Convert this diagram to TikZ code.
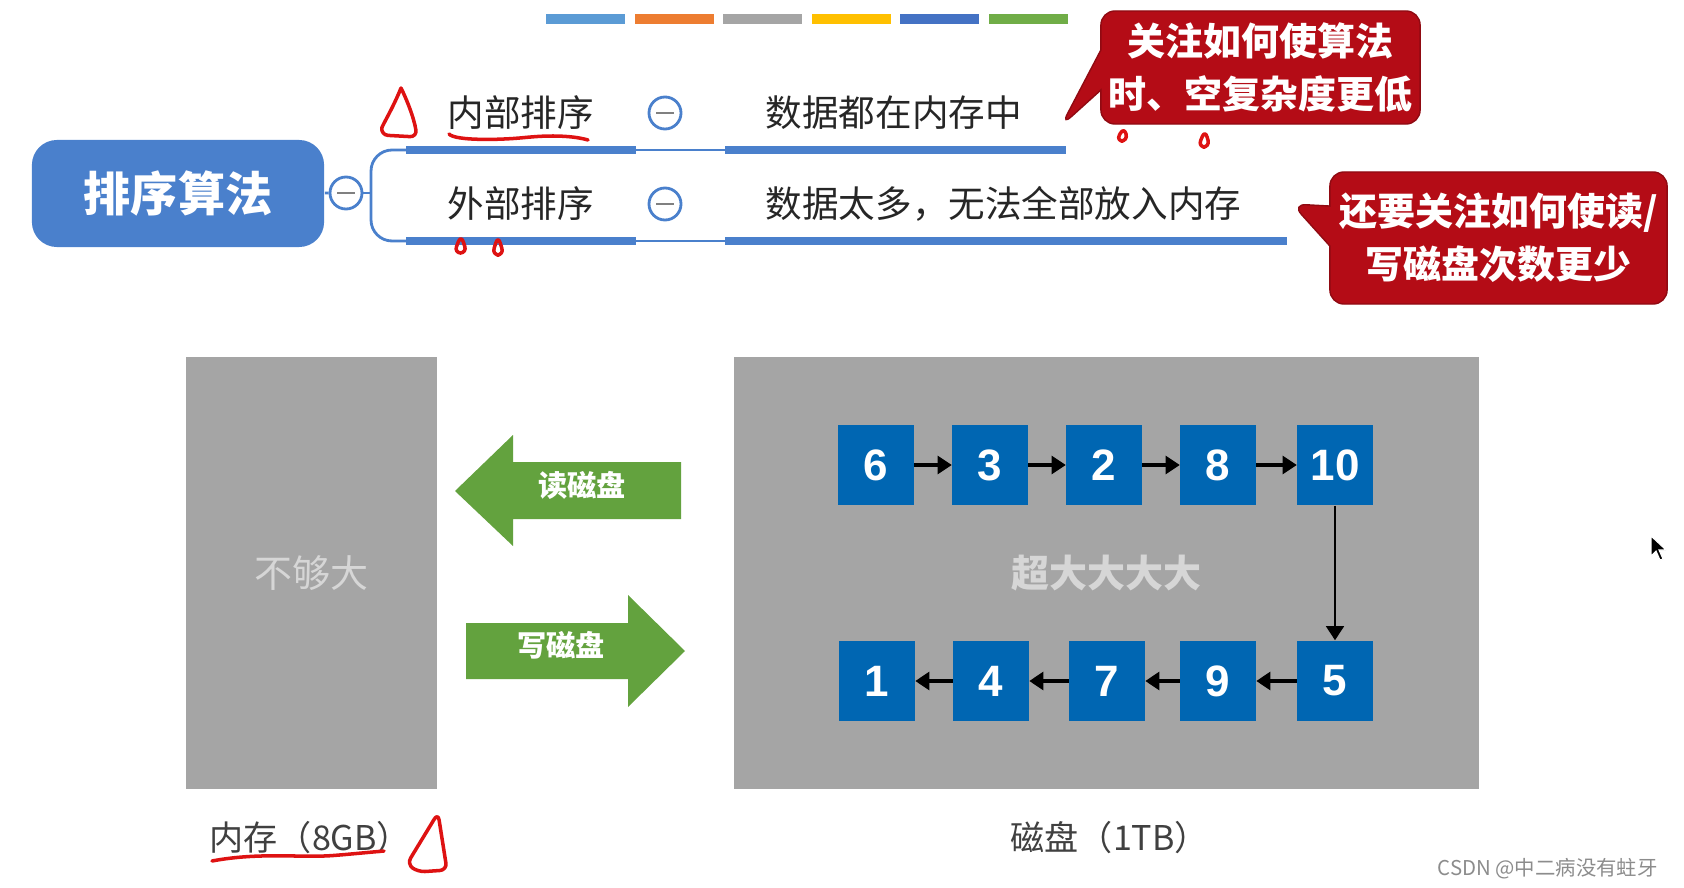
\documentclass[tikz,border=0pt]{standalone}
\usepackage{fontspec}
\setmainfont{Noto Sans CJK SC}
\newfontfamily\numfont{Liberation Sans}
\usetikzlibrary{arrows.meta,shapes.callouts}
\definecolor{mindblue}{RGB}{74,128,204}
\definecolor{calred}{RGB}{180,12,22}
\definecolor{diskgray}{RGB}{165,165,165}
\definecolor{softgray}{RGB}{214,214,214}
\definecolor{boxblue}{RGB}{0,102,178}
\definecolor{arrowgreen}{RGB}{99,162,62}
\definecolor{handred}{RGB}{222,18,18}
\definecolor{barA}{RGB}{91,155,213}
\definecolor{barB}{RGB}{237,125,49}
\definecolor{barC}{RGB}{165,165,165}
\definecolor{barD}{RGB}{255,192,0}
\definecolor{barE}{RGB}{68,114,196}
\definecolor{barF}{RGB}{112,173,71}
\tikzset{
  numbox/.style={fill=boxblue, minimum width=0.75cm, minimum height=0.8cm, inner sep=0pt,
    text=white, font=\numfont\bfseries\fontsize{12.5}{14}\selectfont},
  link/.style={-{Triangle[length=4pt,width=5pt]}, line width=1.1pt},
  branchtext/.style={anchor=west, inner sep=0pt, text=black!85, font=\fontsize{10.4}{12}\selectfont},
  foldsign/.style={circle, draw=mindblue, fill=white, line width=0.8pt, minimum size=0.32cm, inner sep=0pt,
    path picture={\draw[black!50, line width=0.8pt]
      ([xshift=-2.5pt]path picture bounding box.center) -- ([xshift=2.5pt]path picture bounding box.center);}},
  bar/.style={mindblue, line width=2pt},
  thin/.style={mindblue, line width=0.8pt},
  notebox/.style={rectangle callout, fill=calred, draw=calred!80!black, rounded corners=4pt, text=white,
    align=center, inner sep=0pt, callout pointer width=0.4cm, font=\bfseries\fontsize{10.8}{15}\selectfont},
  storage/.style={fill=diskgray, minimum height=4.32cm, inner sep=0pt, text=softgray},
  caption/.style={anchor=west, inner sep=0pt, text=black!75, font=\fontsize{9.7}{12}\selectfont},
  handmark/.style={draw=handred, line width=1pt, line cap=round, line join=round, rounded corners=2pt},
}
\begin{document}
\begin{tikzpicture}[x=0.01cm, y=-0.01cm]
\useasboundingbox (0,0) rectangle (1684,888);
\foreach \c [count=\i from 0] in {barA,barB,barC,barD,barE,barF}
  \fill[\c] (546+\i*88.6,14) rectangle ++(79,10);

\node[fill=mindblue, rounded corners=0.25cm, minimum width=2.92cm, minimum height=1.07cm, text=white,
  font=\bfseries\fontsize{13.4}{16}\selectfont] (root) at (178,193.5) {排序算法};
\node[foldsign] (f0) at (346,193) {};
\coordinate (fork) at (371,193);
\coordinate (b1) at (406,150);
\coordinate (e1) at (636,150);
\coordinate (s1) at (725,150);
\coordinate (t1) at (1066,150);
\coordinate (b2) at (406,241);
\coordinate (e2) at (636,241);
\coordinate (s2) at (725,241);
\coordinate (t2) at (1287,241);
\draw[thin] (root) -- (f0);
\draw[thin] (f0) -- (fork);
\draw[thin, rounded corners=6pt] (b1) -| (fork) |- (b2);
\draw[bar] (b1) -- (e1);
\draw[thin] (e1) -- (s1);
\draw[bar] (s1) -- (t1);
\draw[bar] (b2) -- (e2);
\draw[thin] (e2) -- (s2);
\draw[bar] (s2) -- (t2);

\node[branchtext] (inner) at (447,113) {内部排序};
\node[foldsign] (f1) at (665,113) {};
\node[branchtext] (innerd) at (765,113) {数据都在内存中};
\node[branchtext] (outer) at (447,204) {外部排序};
\node[foldsign] (f2) at (665,204) {};
\node[branchtext] (outerd) at (765,204) {数据太多，无法全部放入内存};

\node[notebox, minimum width=3.19cm, minimum height=1.13cm, callout absolute pointer={(1061,126)}]
  (note1) at (1260.5,67.5) {关注如何使算法\\时、空复杂度更低};
\node[notebox, minimum width=3.37cm, minimum height=1.32cm, callout absolute pointer={(1292,204)}]
  (note2) at (1498.5,238) {还要关注如何使读/\\写磁盘次数更少};

\node[storage, minimum width=2.51cm, font=\fontsize{10.8}{13}\selectfont] (mem) at (311.5,573) {不够大};
\node[storage, minimum width=7.45cm, font=\bfseries\fontsize{10.8}{13}\selectfont] (disk) at (1106.5,573) {超大大大大};
\node[caption] (memlabel) at (209,838) {内存（8GB）};
\node[caption] (disklabel) at (1010,838) {磁盘（1TB）};

\fill[arrowgreen] (455,491) -- (513,435) -- (513,462) -- (681,462) -- (681,519) -- (513,519) -- (513,546) -- cycle;
\fill[arrowgreen] (466,623) -- (628,623) -- (628,595) -- (685,651) -- (628,707) -- (628,679) -- (466,679) -- cycle;
\node[text=white, font=\bfseries\fontsize{8.3}{10}\selectfont] (readdisk) at (582,485) {读磁盘};
\node[text=white, font=\bfseries\fontsize{8.3}{10}\selectfont] (writedisk) at (561,645) {写磁盘};

\node[numbox] (n6) at (876,465) {6};
\node[numbox] (n3) at (990,465) {3};
\node[numbox] (n2) at (1104,465) {2};
\node[numbox] (n8) at (1218,465) {8};
\node[numbox] (n10) at (1335,465) {10};
\node[numbox] (n5) at (1335,681) {5};
\node[numbox] (n9) at (1218,681) {9};
\node[numbox] (n7) at (1107,681) {7};
\node[numbox] (n4) at (991,681) {4};
\node[numbox] (n1) at (877,681) {1};
\draw[link] (n6) -- (n3);
\draw[link] (n3) -- (n2);
\draw[link] (n2) -- (n8);
\draw[link] (n8) -- (n10);
\draw[link, line width=0.8pt] (n10) -- (n5);
\draw[link] (n5) -- (n9);
\draw[link] (n9) -- (n7);
\draw[link] (n7) -- (n4);
\draw[link] (n4) -- (n1);

\draw[handmark] (401,88) .. controls (393,108) and (382,126) .. (381,135) -- (417,137) .. controls (414,118) and (407,100) .. (401,88);
\draw[handmark] (449,134) .. controls (455,141) and (500,140) .. (530,137) .. controls (560,135) and (578,137) .. (588,140);
\draw[handmark] (461,235) -- (454,253) -- (467,253) -- cycle;
\draw[handmark] (498,236) -- (492,255) -- (504,255) -- cycle;
\draw[handmark] (1124,127) -- (1116,141) -- (1128,141) -- cycle;
\draw[handmark] (1205,130) -- (1198,147) -- (1210,147) -- cycle;
\draw[handmark] (212,861) .. controls (260,852) and (300,858) .. (340,855) -- (384,851);
\draw[handmark] (438,813) -- (407,864) -- (418,872) -- (447,870) -- cycle;

\fill[black, draw=white, line width=0.3pt] (1651,536) -- (1651,556) -- (1656,551) -- (1660,560) -- (1663,559) -- (1659,550) -- (1666,550) -- cycle;
\node[anchor=east, text=black!45, font=\fontsize{5.8}{7}\selectfont] (mark) at (1670,869) {CSDN @中二病没有蛀牙};
\end{tikzpicture}
\end{document}
